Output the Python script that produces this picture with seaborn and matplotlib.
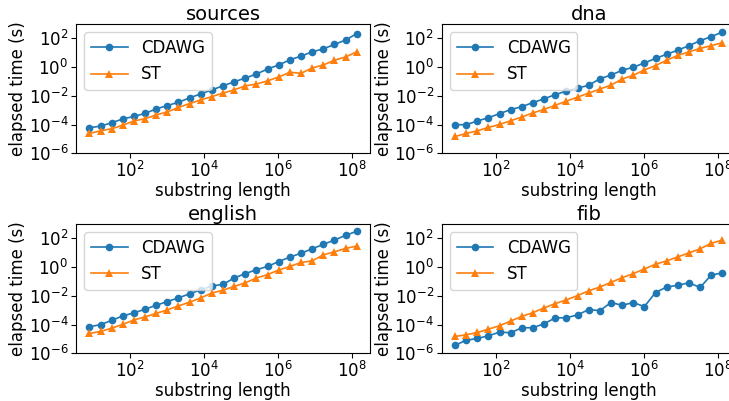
import matplotlib
matplotlib.use("Agg")
import matplotlib.pyplot as plt
import seaborn as sns

# substring lengths: 2^3 .. 2^27
lengths = [8, 16, 32, 64, 128, 256, 512, 1024, 2048, 4096, 8192, 16384, 32768,
           65536, 131072, 262144, 524288, 1048576, 2097152, 4194304, 8388608,
           16777216, 33554432, 67108864, 134217728]

sources_cdawg = [6.0e-5, 7.8e-5, 1.35e-4, 2.45e-4, 3.7e-4, 6.0e-4, 1.23e-3, 2.1e-3, 3.6e-3,
                 7.2e-3, 0.0138, 0.026, 0.050, 0.095, 0.174, 0.33, 0.74, 1.41, 3.2, 5.8,
                 11.5, 18.6, 38, 76, 214]
sources_st = [2.4e-5, 3.7e-5, 5.1e-5, 9.1e-5, 1.78e-4, 2.57e-4, 4.7e-4, 7.6e-4, 1.58e-3,
              2.9e-3, 5.2e-3, 8.9e-3, 0.0155, 0.026, 0.050, 0.066, 0.112, 0.204, 0.44, 0.37,
              0.87, 1.41, 3.0, 5.1, 11.5]

dna_cdawg = [9.8e-5, 9.8e-5, 1.78e-4, 3.0e-4, 5.8e-4, 1.1e-3, 1.78e-3, 3.4e-3, 6.2e-3,
             0.0123, 0.0214, 0.035, 0.054, 0.155, 0.28, 0.60, 0.98, 1.95, 4.0, 7.9,
             15.1, 31, 69, 132, 275]
dna_st = [1.48e-5, 2.4e-5, 3.7e-5, 6.3e-5, 1.02e-4, 1.86e-4, 3.4e-4, 6.5e-4, 1.15e-3,
          2.2e-3, 4.3e-3, 8.1e-3, 0.0155, 0.0295, 0.056, 0.148, 0.27, 0.63, 1.29, 3.0,
          6.5, 11.5, 20, 31, 50]

english_cdawg = [7.1e-5, 9.8e-5, 1.95e-4, 4.0e-4, 6.5e-4, 1.17e-3, 2.2e-3, 4.0e-3, 7.2e-3,
                 0.0138, 0.026, 0.048, 0.063, 0.174, 0.35, 0.66, 1.10, 2.45, 4.9, 9.3,
                 18.6, 38, 76, 162, 309]
english_st = [2.4e-5, 3.3e-5, 5.6e-5, 1.02e-4, 2.1e-4, 3.4e-4, 6.0e-4, 1.05e-3, 2.0e-3,
              3.6e-3, 7.2e-3, 0.0155, 0.025, 0.045, 0.081, 0.174, 0.30, 0.63, 1.10, 2.1,
              2.7, 7.1, 11.5, 20, 29]

fib_cdawg = [3.6e-6, 8.1e-6, 1.07e-5, 1.66e-5, 2.95e-5, 2.7e-5, 6.0e-5, 6.0e-5, 1.15e-4,
             2.9e-4, 3.0e-4, 4.7e-4, 1.1e-3, 9.3e-4, 3.4e-3, 2.2e-3, 3.4e-3, 1.78e-3,
             0.017, 0.041, 0.054, 0.081, 0.038, 0.28, 0.39]
fib_st = [1.48e-5, 1.95e-5, 2.8e-5, 4.8e-5, 8.3e-5, 1.78e-4, 3.7e-4, 6.8e-4, 1.45e-3,
          2.9e-3, 5.2e-3, 0.0105, 0.0224, 0.041, 0.087, 0.182, 0.35, 0.74, 1.58, 2.7,
          5.1, 9.8, 18.6, 45, 76]

panels = [
    ("sources", sources_cdawg, sources_st),
    ("dna", dna_cdawg, dna_st),
    ("english", english_cdawg, english_st),
    ("fib", fib_cdawg, fib_st),
]

plt.rcParams.update({'font.size': 12})

fig = plt.figure(figsize=(7.29, 4.01), dpi=100)
# axes boxes in figure fractions (the right column runs past the figure edge)
positions = [
    [0.1043, 0.6177, 0.4033, 0.3224],
    [0.6059, 0.6177, 0.4033, 0.3224],
    [0.1043, 0.1190, 0.4033, 0.3224],
    [0.6059, 0.1190, 0.4033, 0.3224],
]

for (name, cdawg, st), pos in zip(panels, positions):
    ax = fig.add_axes(pos)
    sns.lineplot(x=lengths, y=cdawg, marker='o', markersize=5.5, markeredgewidth=0,
                 color='tab:blue', linewidth=1.2, label='CDAWG', ax=ax)
    sns.lineplot(x=lengths, y=st, marker='^', markersize=6, markeredgewidth=0,
                 color='tab:orange', linewidth=1.2, label='ST', ax=ax)
    ax.set_xscale('log')
    ax.set_yscale('log')
    ax.set_ylim(1e-6, 1e3)
    ax.set_yticks([1e-6, 1e-4, 1e-2, 1e0, 1e2])
    ax.set_xticks([1e2, 1e4, 1e6, 1e8])
    ax.tick_params(labelsize=12, pad=2)
    ax.set_title(name, fontsize=14, pad=3)
    ax.set_xlabel('substring length', fontsize=12, labelpad=1)
    ax.set_ylabel('elapsed time (s)', fontsize=12, labelpad=1)
    ax.legend(loc='upper left', fontsize=12, handlelength=2.2)

fig.savefig('out.png', dpi=100)
